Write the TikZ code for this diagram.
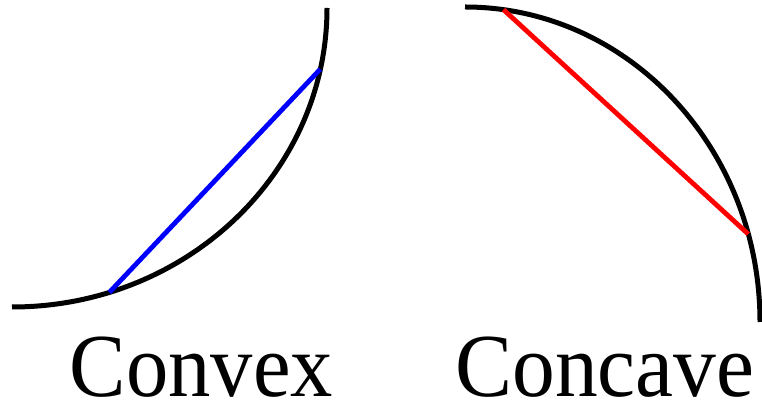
\documentclass[tikz,border=0pt]{standalone}
\usepackage{fontspec}
\setmainfont{Liberation Serif}
\begin{document}
\begin{tikzpicture}[x=1pt,y=1pt,
  curve/.style={draw=black,line width=5pt},
  chord/.style={line width=4.8pt},
  lbl/.style={anchor=base,inner sep=0pt,text depth=0pt,font=\fontsize{90}{90}\selectfont}]
\useasboundingbox (0,0) rectangle (762,406);
% left (convex)
\coordinate (c1) at (12,398);
\draw[curve] (12,99) arc[start angle=-90,end angle=0,x radius=315,y radius=299];
\path (c1) ++(-72:315 and 299) coordinate (b1);
\path (c1) ++(-11.8:315 and 299) coordinate (b2);
\draw[chord,draw={rgb,255:red,0;green,0;blue,255}] (b1) -- (b2);
% right (concave)
\coordinate (c2) at (465,84);
\draw[curve] (465,399) arc[start angle=90,end angle=0,x radius=295,y radius=315];
\path (c2) ++(82.5:295 and 315) coordinate (r1);
\path (c2) ++(16.2:295 and 315) coordinate (r2);
\draw[chord,draw={rgb,255:red,255;green,0;blue,0}] (r1) -- (r2);
% labels
\node[lbl,xscale=0.94] (convex) at (201.5,9.5) {Convex};
\node[lbl,xscale=0.95] (concave) at (605,9.5) {Concave};
\end{tikzpicture}
\end{document}
